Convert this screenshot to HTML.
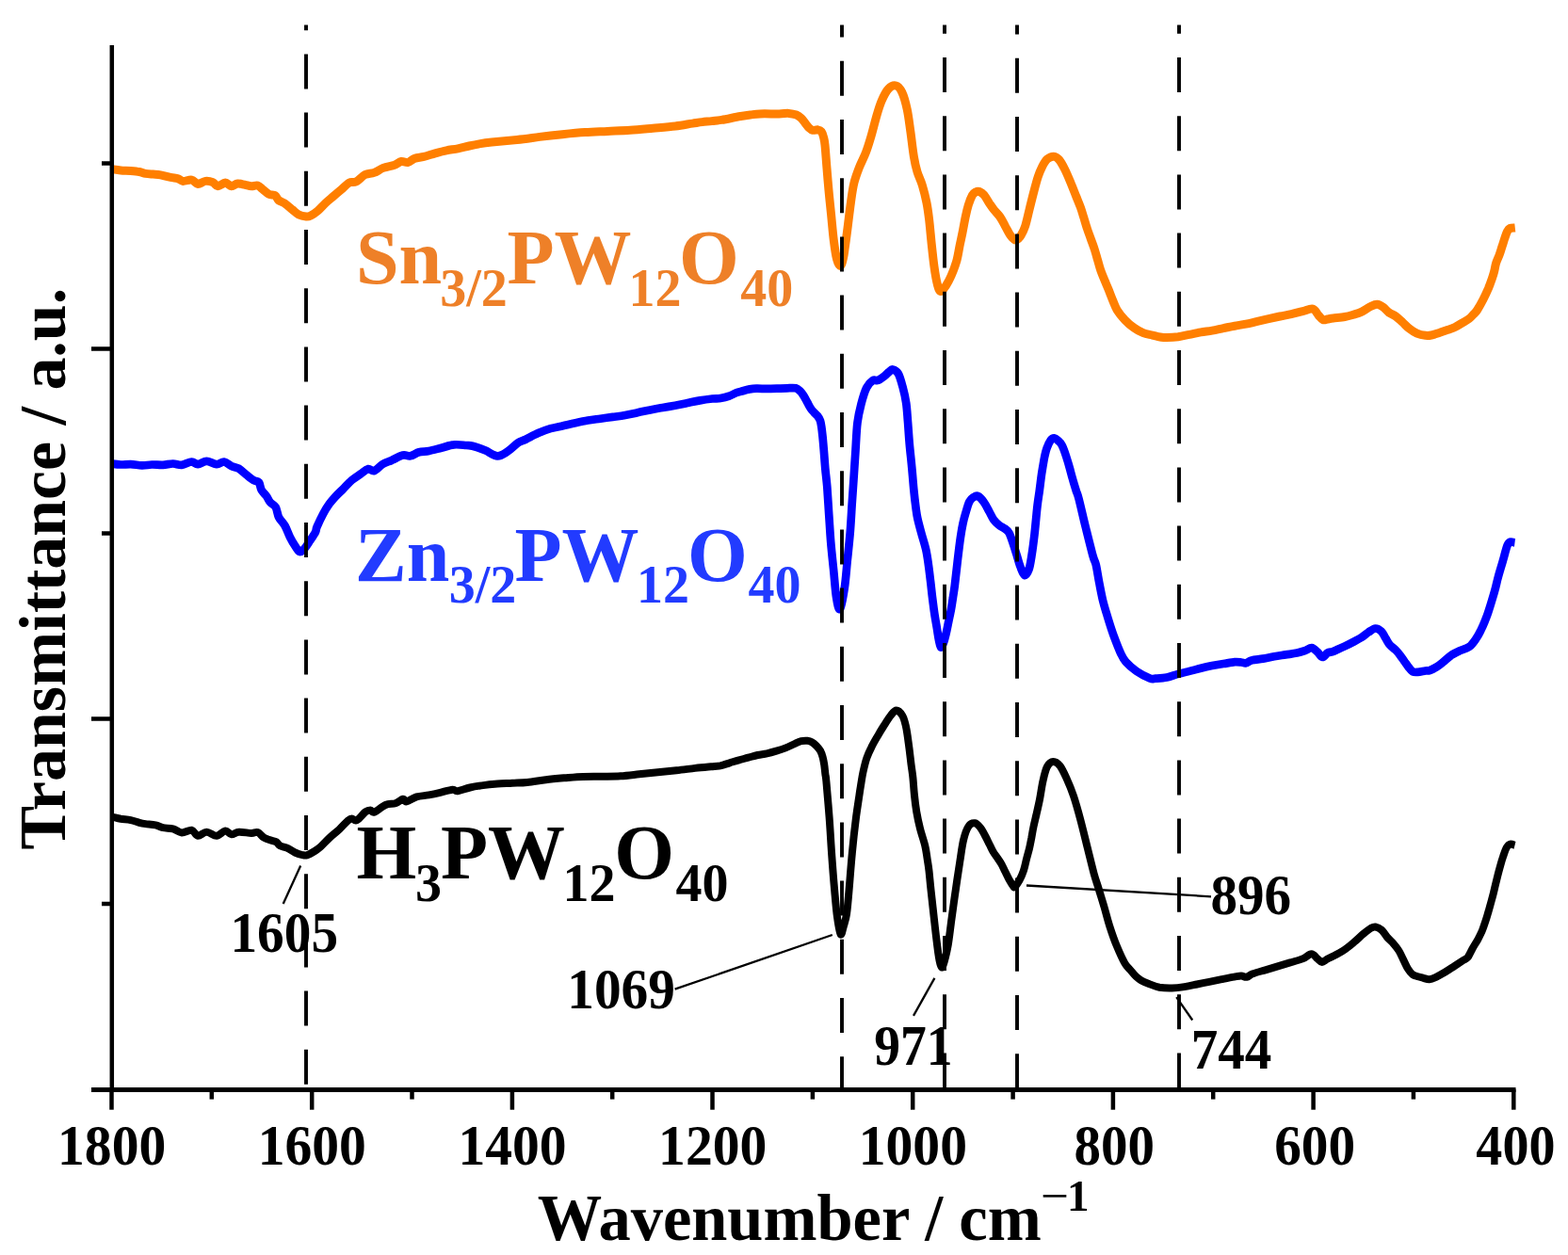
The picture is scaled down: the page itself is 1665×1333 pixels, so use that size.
<!DOCTYPE html>
<html><head><meta charset="utf-8"><title>FTIR spectra</title>
<style>html,body{margin:0;padding:0;background:#fff;overflow:hidden}svg{display:block}</style>
</head><body>
<svg width="1665" height="1333" viewBox="0 0 1665 1333">
<rect width="1665" height="1333" fill="#fff"/>
<g fill="none" stroke-linejoin="round" stroke-linecap="butt">
<path d="M118.3 179.6C119.9 179.8 124.8 180.6 128.2 180.9C131.6 181.2 135.5 181.1 138.8 181.4C142.1 181.7 145.4 182.0 148.0 182.5C150.6 183.0 152.2 184.0 154.6 184.4C157.0 184.8 159.9 184.9 162.6 185.1C165.2 185.3 167.4 185.2 170.5 185.8C173.6 186.4 178.0 187.8 181.1 188.4C184.2 189.1 186.8 189.0 189.0 189.7C191.2 190.4 191.9 192.2 194.3 192.4C196.7 192.6 200.9 190.6 203.5 191.1C206.1 191.6 207.7 195.2 210.1 195.4C212.5 195.6 215.4 192.7 218.1 192.4C220.8 192.1 223.8 192.8 226.0 193.7C228.2 194.6 229.1 197.6 231.3 197.7C233.5 197.8 236.8 194.1 239.2 194.1C241.6 194.1 243.6 197.5 245.8 197.7C248.0 197.8 250.0 195.2 252.4 195.0C254.8 194.8 257.9 195.9 260.3 196.3C262.7 196.8 264.8 197.6 267.0 197.7C269.2 197.8 271.6 196.4 273.6 197.0C275.6 197.6 276.8 199.5 278.8 201.0C280.8 202.5 283.3 205.1 285.5 206.2C287.7 207.3 290.4 206.5 292.1 207.6C293.9 208.7 294.2 211.5 296.0 212.9C297.8 214.3 300.2 214.5 302.6 216.2C305.0 217.8 308.2 220.8 310.6 222.8C313.0 224.8 314.8 226.8 317.2 228.0C319.6 229.2 323.0 229.8 325.1 230.0C327.2 230.2 328.0 230.0 330.0 229.0C332.0 228.0 334.6 226.3 337.2 224.1C339.8 221.9 342.8 218.3 345.6 215.7C348.4 213.1 351.2 210.9 354.0 208.5C356.8 206.1 359.6 203.7 362.4 201.3C365.2 198.9 368.2 195.5 370.8 194.1C373.4 192.7 375.2 194.4 378.0 193.0C380.8 191.6 384.5 187.2 387.7 185.6C390.9 184.0 394.1 184.6 397.3 183.4C400.5 182.2 403.3 179.8 406.9 178.4C410.5 177.0 415.7 176.3 418.9 175.2C422.1 174.0 423.7 171.9 426.1 171.5C428.5 171.1 430.9 173.1 433.3 172.5C435.7 171.9 437.7 169.2 440.5 168.2C443.3 167.2 446.5 167.3 450.1 166.4C453.7 165.5 458.1 163.9 462.1 162.8C466.1 161.7 470.1 160.6 474.1 159.8C478.1 159.0 482.2 158.6 486.2 157.8C490.2 157.0 494.2 155.9 498.2 155.0C502.2 154.1 506.2 153.3 510.2 152.6C514.2 151.9 515.7 151.7 522.2 151.0C528.7 150.3 540.5 149.3 549.0 148.4C557.5 147.5 565.0 146.4 573.0 145.4C581.0 144.4 589.1 143.5 597.1 142.7C605.1 141.9 613.1 141.1 621.1 140.6C629.1 140.1 637.1 139.8 645.1 139.4C653.1 139.0 661.1 138.7 669.1 138.2C677.1 137.7 685.2 136.9 693.2 136.2C701.2 135.5 710.2 134.8 717.2 134.0C724.2 133.2 730.7 131.8 735.4 131.1C740.1 130.4 742.2 130.0 745.6 129.6C749.0 129.2 752.4 129.0 755.8 128.6C759.2 128.2 762.7 127.9 766.1 127.4C769.5 126.9 772.9 126.2 776.3 125.5C779.7 124.8 783.1 124.1 786.5 123.5C789.9 122.9 793.3 122.4 796.7 122.0C800.1 121.6 801.8 121.1 806.9 120.9C812.0 120.7 822.2 121.0 827.3 120.9C832.4 120.8 834.4 120.2 837.5 120.4C840.6 120.6 843.5 121.2 845.7 122.0C847.9 122.8 849.3 124.1 850.8 125.5C852.3 126.9 853.5 128.9 854.9 130.6C856.3 132.3 857.6 134.4 859.0 135.7C860.4 137.0 861.5 138.0 863.0 138.3C864.5 138.7 866.7 137.6 868.2 137.8C869.7 138.1 871.1 138.4 872.2 139.8C873.3 141.2 874.0 143.6 874.6 146.0C875.2 148.4 875.5 149.3 876.0 154.0C876.5 158.7 877.0 166.2 877.6 174.0C878.2 181.8 879.1 192.1 879.9 201.1C880.7 210.1 881.7 219.1 882.6 228.1C883.5 237.1 884.3 247.2 885.3 255.1C886.3 263.0 887.4 270.8 888.6 275.4C889.8 280.0 891.4 282.7 892.5 282.5C893.6 282.3 894.7 277.4 895.5 274.0C896.3 270.6 896.6 267.3 897.4 261.9C898.2 256.5 899.1 249.5 900.1 241.6C901.1 233.7 902.4 222.5 903.5 214.6C904.6 206.7 905.4 200.4 906.9 194.3C908.4 188.2 910.2 183.6 912.3 178.1C914.4 172.6 917.5 167.2 919.6 161.5C921.8 155.8 923.3 150.4 925.2 144.0C927.1 137.6 929.0 129.4 930.8 123.2C932.6 117.0 934.1 111.8 936.2 107.0C938.3 102.2 940.9 97.1 943.4 94.4C945.9 91.7 949.1 90.4 951.5 91.0C953.9 91.6 955.8 93.8 957.8 98.0C959.8 102.2 961.7 109.1 963.2 116.0C964.7 122.9 965.6 131.0 966.8 139.4C968.0 147.8 969.2 159.2 970.4 166.4C971.6 173.6 972.5 177.5 974.0 182.6C975.5 187.7 977.8 191.6 979.4 197.0C981.0 202.4 982.7 209.0 983.9 215.0C985.1 221.0 985.7 225.5 986.6 233.0C987.5 240.5 988.4 251.6 989.3 260.0C990.2 268.4 991.0 276.2 992.0 283.4C993.0 290.6 994.4 298.6 995.6 303.0C996.8 307.4 997.7 309.5 999.2 309.5C1000.7 309.5 1002.8 305.9 1004.6 303.2C1006.4 300.4 1008.1 297.3 1010.0 293.0C1011.9 288.7 1014.2 282.7 1015.7 277.5C1017.2 272.3 1017.9 266.9 1018.9 261.9C1019.9 256.8 1021.0 252.4 1022.0 247.2C1023.0 241.9 1024.2 235.3 1025.2 230.4C1026.2 225.5 1027.1 221.7 1028.3 217.8C1029.5 214.0 1031.2 209.6 1032.5 207.3C1033.8 205.0 1034.8 204.6 1036.0 204.0C1037.2 203.4 1038.4 202.9 1039.9 203.5C1041.4 204.1 1043.3 205.3 1045.1 207.3C1046.8 209.3 1048.7 213.1 1050.4 215.7C1052.2 218.3 1053.7 220.6 1055.6 223.0C1057.5 225.4 1060.0 227.6 1061.9 230.4C1063.8 233.2 1065.5 236.7 1067.2 239.8C1069.0 243.0 1070.8 246.9 1072.4 249.3C1074.0 251.7 1075.4 253.1 1076.6 254.0C1077.8 254.9 1078.2 255.5 1079.5 254.8C1080.8 254.1 1082.7 252.4 1084.2 249.9C1085.7 247.4 1087.2 244.7 1088.7 240.0C1090.2 235.3 1091.7 228.0 1093.2 222.0C1094.7 216.0 1096.2 209.7 1097.7 204.0C1099.2 198.3 1100.7 192.3 1102.2 187.8C1103.7 183.3 1105.1 180.2 1106.7 177.0C1108.3 173.8 1110.0 170.7 1112.1 168.9C1114.2 167.1 1117.2 166.0 1119.3 166.2C1121.4 166.3 1122.8 167.6 1124.7 169.8C1126.6 172.0 1128.5 175.6 1130.5 179.5C1132.5 183.4 1134.5 188.2 1136.5 193.0C1138.5 197.8 1140.7 203.5 1142.5 208.0C1144.3 212.5 1145.9 216.2 1147.3 220.0C1148.7 223.8 1149.6 227.2 1150.8 231.0C1152.0 234.8 1153.0 238.7 1154.3 242.5C1155.5 246.3 1157.0 249.9 1158.3 253.7C1159.6 257.4 1161.1 261.2 1162.3 265.0C1163.5 268.8 1164.5 272.5 1165.6 276.3C1166.7 280.1 1167.6 283.9 1168.9 287.6C1170.2 291.4 1172.1 295.5 1173.4 298.8C1174.8 302.1 1175.6 303.9 1177.0 307.3C1178.4 310.8 1180.3 315.8 1181.8 319.5C1183.3 323.2 1184.1 325.9 1186.2 329.3C1188.3 332.7 1191.5 336.6 1194.5 339.8C1197.5 343.0 1201.0 346.0 1204.3 348.3C1207.5 350.6 1210.8 352.4 1214.0 353.7C1217.2 355.0 1220.5 355.3 1223.8 356.1C1227.0 356.9 1231.0 357.9 1233.5 358.3C1236.0 358.7 1236.1 358.7 1239.0 358.6C1241.9 358.5 1247.0 358.2 1251.0 357.7C1255.0 357.1 1259.0 356.1 1263.0 355.3C1267.0 354.5 1271.1 353.6 1275.1 352.9C1279.1 352.2 1283.1 351.8 1287.1 351.1C1291.1 350.4 1295.1 349.4 1299.1 348.6C1303.1 347.8 1307.1 346.9 1311.1 346.2C1315.1 345.5 1319.1 345.0 1323.1 344.2C1327.1 343.4 1331.1 342.3 1335.1 341.4C1339.1 340.5 1343.1 339.6 1347.1 338.7C1351.1 337.8 1355.1 336.9 1359.1 336.0C1363.1 335.1 1367.2 334.5 1371.2 333.6C1375.2 332.7 1379.4 331.5 1383.2 330.6C1387.0 329.7 1391.2 327.5 1394.0 328.2C1396.8 328.9 1398.2 332.9 1400.0 334.8C1401.8 336.7 1403.2 338.9 1404.8 339.6C1406.4 340.3 1407.8 339.3 1409.6 339.0C1411.4 338.7 1412.6 338.4 1415.7 338.0C1418.8 337.6 1424.5 337.1 1428.0 336.5C1431.5 335.9 1434.0 335.1 1437.0 334.2C1440.0 333.3 1443.0 332.5 1446.0 331.1C1449.0 329.7 1452.3 327.0 1455.0 325.7C1457.7 324.4 1460.0 323.1 1462.3 323.2C1464.6 323.3 1466.5 324.6 1468.6 326.1C1470.7 327.6 1472.7 330.4 1474.9 332.0C1477.2 333.6 1479.7 334.3 1482.1 336.0C1484.5 337.7 1486.9 340.1 1489.3 342.3C1491.7 344.5 1494.0 347.1 1496.5 349.1C1499.0 351.1 1501.8 352.9 1504.6 354.1C1507.4 355.3 1511.0 356.0 1513.6 356.3C1516.1 356.6 1517.4 356.5 1519.9 356.0C1522.5 355.5 1526.0 354.1 1528.9 353.2C1531.8 352.2 1534.8 351.2 1537.5 350.3C1540.2 349.4 1542.5 348.7 1545.0 347.5C1547.5 346.3 1550.0 344.6 1552.5 343.1C1555.0 341.6 1558.0 340.0 1560.0 338.5C1562.0 337.0 1563.1 335.5 1564.5 334.0C1565.9 332.5 1566.8 332.2 1568.5 329.5C1570.2 326.8 1573.0 321.9 1575.0 318.0C1577.0 314.1 1579.0 309.7 1580.6 306.0C1582.1 302.3 1583.3 298.9 1584.3 296.0C1585.3 293.1 1585.9 291.2 1586.6 288.5C1587.3 285.8 1587.7 282.5 1588.6 279.5C1589.5 276.5 1591.1 273.5 1592.2 270.5C1593.3 267.5 1594.1 264.5 1595.1 261.5C1596.1 258.5 1597.1 255.1 1598.0 252.5C1598.9 249.9 1599.6 247.5 1600.5 245.8C1601.4 244.1 1602.1 243.1 1603.5 242.5C1604.9 241.9 1607.9 242.1 1608.8 242.0" stroke="#FF7F00" stroke-width="9"/>
<path d="M118.3 492.5C119.9 492.7 124.8 493.4 128.2 493.5C131.6 493.6 135.1 493.0 138.8 493.1C142.6 493.2 147.0 494.3 150.7 494.4C154.4 494.5 157.5 493.6 161.2 493.5C164.9 493.4 169.3 494.0 173.1 493.8C176.8 493.6 180.4 492.5 183.7 492.5C187.0 492.5 189.7 494.1 193.0 493.8C196.3 493.5 200.7 490.6 203.5 490.5C206.3 490.4 207.4 493.2 210.1 493.1C212.8 493.0 216.1 489.8 219.4 489.8C222.7 489.8 226.9 493.0 230.0 493.1C233.1 493.2 235.3 490.2 237.9 490.5C240.5 490.8 243.2 493.9 245.8 495.1C248.4 496.3 251.0 496.1 253.7 497.7C256.3 499.2 259.0 502.3 261.7 504.4C264.4 506.5 267.4 509.0 269.6 510.3C271.8 511.6 273.6 510.6 274.9 512.3C276.2 513.9 276.2 517.8 277.5 520.2C278.8 522.6 281.2 524.6 282.8 526.8C284.4 529.0 285.2 531.4 286.8 533.4C288.4 535.4 291.2 536.1 292.7 538.7C294.2 541.4 294.4 546.0 296.0 549.3C297.6 552.6 300.6 555.0 302.6 558.5C304.6 562.0 306.1 566.9 307.9 570.4C309.7 573.9 311.5 577.1 313.2 579.7C314.9 582.3 316.4 585.4 318.0 586.0C319.6 586.6 320.6 585.5 322.5 583.6C324.4 581.7 327.0 577.5 329.1 574.4C331.2 571.3 333.8 567.6 335.0 565.1C336.2 562.6 335.2 562.7 336.6 559.5C338.0 556.3 341.0 549.8 343.2 545.7C345.4 541.6 347.6 538.2 349.8 535.1C352.0 532.0 354.0 529.8 356.4 527.2C358.8 524.6 361.5 522.2 364.4 519.3C367.3 516.4 370.5 512.6 373.6 510.0C376.7 507.4 380.0 505.4 382.9 503.4C385.8 501.4 388.4 498.7 390.8 498.1C393.2 497.6 394.8 501.0 397.4 500.1C400.0 499.2 403.5 494.8 406.6 492.9C409.7 491.0 412.4 490.4 415.9 488.9C419.4 487.3 424.5 484.4 427.8 483.6C431.1 482.8 432.8 484.9 435.7 484.3C438.6 483.8 441.7 481.2 445.0 480.3C448.3 479.4 451.6 479.8 455.5 479.0C459.4 478.2 464.3 476.8 468.7 475.7C473.1 474.6 477.6 472.8 482.0 472.4C486.4 471.9 491.9 472.8 495.2 473.0C498.5 473.2 498.5 472.8 501.8 473.7C505.1 474.6 510.6 476.5 515.0 478.3C519.4 480.1 524.2 484.1 528.2 484.3C532.2 484.5 535.2 481.9 538.8 479.6C542.4 477.3 546.8 472.5 550.0 470.4C553.2 468.2 554.6 468.4 558.2 466.7C561.8 465.0 567.0 462.0 571.4 460.1C575.8 458.2 580.2 456.5 584.6 455.2C589.0 453.9 593.5 453.2 597.9 452.2C602.3 451.2 606.7 450.1 611.1 449.2C615.5 448.2 619.9 447.2 624.3 446.5C628.7 445.8 633.1 445.3 637.5 444.7C641.9 444.1 646.3 443.5 650.7 442.9C655.1 442.3 659.5 441.8 663.9 441.0C668.3 440.2 672.7 439.2 677.1 438.3C681.5 437.4 685.9 436.3 690.3 435.4C694.7 434.5 699.2 433.8 703.6 433.0C708.0 432.2 712.4 431.5 716.8 430.7C721.2 429.9 725.6 428.9 730.0 428.0C734.4 427.1 738.8 426.1 743.2 425.4C747.6 424.6 752.8 423.9 756.4 423.5C760.0 423.1 762.0 423.5 765.0 423.0C768.0 422.5 771.6 421.6 774.4 420.6C777.2 419.7 779.2 418.2 781.6 417.3C784.0 416.4 786.4 415.9 788.8 415.2C791.2 414.5 793.6 413.8 796.0 413.4C798.4 413.0 800.2 412.8 803.2 412.7C806.2 412.6 810.5 412.9 814.1 412.9C817.7 412.9 821.3 412.8 824.9 412.7C828.5 412.6 832.4 412.4 835.7 412.3C839.1 412.2 842.6 411.7 845.0 412.3C847.4 412.9 848.6 414.5 850.1 415.9C851.6 417.3 852.5 419.0 853.7 420.9C854.9 422.8 856.1 425.2 857.3 427.4C858.5 429.6 859.7 432.1 860.9 433.9C862.1 435.7 863.3 436.9 864.5 438.2C865.7 439.5 867.0 440.4 868.1 441.8C869.2 443.2 870.3 444.8 871.0 446.9C871.7 448.9 872.0 451.3 872.4 454.1C872.8 456.9 873.1 459.7 873.5 463.5C873.9 467.3 874.2 471.3 874.7 477.0C875.2 482.7 875.7 490.9 876.3 497.6C876.9 504.3 877.6 509.0 878.3 517.1C878.9 525.2 879.6 536.5 880.2 546.3C880.9 556.0 881.4 565.8 882.2 575.6C883.0 585.4 884.1 595.1 885.1 604.9C886.1 614.6 886.9 627.1 888.0 634.1C889.1 641.1 890.5 648.6 892.0 647.0C893.5 645.4 895.5 633.0 896.8 624.4C898.1 615.8 898.8 604.9 899.8 595.1C900.8 585.4 901.9 575.6 902.7 565.9C903.5 556.1 904.0 546.4 904.6 536.6C905.2 526.8 906.0 517.1 906.6 507.3C907.2 497.5 907.9 487.8 908.5 478.0C909.1 468.2 909.5 456.9 910.5 448.8C911.5 440.7 912.8 435.5 914.4 429.3C916.0 423.1 918.1 415.9 920.2 411.7C922.3 407.5 925.1 405.2 927.1 403.9C929.1 402.6 930.2 404.8 932.2 404.0C934.2 403.2 937.4 400.7 939.4 399.2C941.4 397.7 942.6 396.1 944.0 395.0C945.4 393.9 946.2 392.2 947.8 392.5C949.4 392.8 952.0 393.7 953.8 396.8C955.6 399.9 957.2 406.0 958.6 411.2C960.0 416.4 961.3 421.9 962.2 428.0C963.1 434.1 963.4 440.7 964.0 448.0C964.6 455.3 965.1 464.0 965.8 472.0C966.5 480.0 967.5 488.0 968.2 496.0C969.0 504.0 969.6 512.7 970.3 520.0C971.0 527.3 971.9 534.8 972.6 540.0C973.3 545.2 973.4 546.5 974.4 551.0C975.4 555.5 977.0 561.4 978.5 566.9C980.0 572.4 982.0 578.1 983.2 583.7C984.5 589.3 985.2 595.0 986.0 600.6C986.8 606.2 987.4 611.9 988.1 617.5C988.8 623.1 989.3 628.8 990.0 634.4C990.7 640.0 991.4 645.6 992.2 651.2C993.0 656.8 994.2 663.3 995.0 668.1C995.8 672.9 996.3 676.8 997.0 680.0C997.7 683.2 998.2 687.0 999.0 687.5C999.8 688.0 1000.9 685.4 1001.8 683.0C1002.7 680.6 1003.7 676.8 1004.6 673.0C1005.5 669.2 1006.4 664.2 1007.3 660.0C1008.2 655.8 1009.1 651.7 1009.9 647.5C1010.7 643.3 1011.2 639.2 1011.9 635.0C1012.5 630.8 1013.0 628.4 1013.8 622.0C1014.6 615.6 1015.7 605.0 1016.7 596.5C1017.7 588.0 1018.9 577.8 1019.9 571.0C1020.9 564.2 1021.6 560.2 1022.5 556.0C1023.4 551.8 1024.0 549.4 1025.2 545.5C1026.4 541.6 1027.9 535.7 1029.4 532.8C1030.9 529.9 1032.5 529.0 1034.0 528.0C1035.5 527.0 1036.8 526.2 1038.5 527.0C1040.2 527.8 1042.5 530.2 1044.5 533.0C1046.5 535.8 1048.8 540.4 1050.5 543.5C1052.2 546.6 1053.2 549.4 1055.0 551.8C1056.8 554.2 1059.0 556.2 1061.0 557.8C1063.0 559.4 1065.2 560.1 1067.0 561.5C1068.8 562.9 1070.0 563.2 1071.5 566.0C1073.0 568.8 1074.6 574.0 1076.0 578.0C1077.4 582.0 1078.5 586.0 1079.8 590.0C1081.0 594.0 1082.1 598.5 1083.5 602.0C1084.9 605.5 1086.5 610.5 1088.0 611.0C1089.5 611.5 1091.2 608.5 1092.5 605.0C1093.8 601.5 1094.5 596.2 1095.5 590.0C1096.5 583.8 1097.5 576.2 1098.5 567.5C1099.5 558.8 1100.6 545.2 1101.5 537.5C1102.4 529.8 1103.2 525.8 1103.8 521.1C1104.4 516.4 1104.8 513.1 1105.3 509.1C1105.8 505.1 1106.4 501.0 1107.1 497.0C1107.8 493.0 1108.5 488.5 1109.2 485.0C1110.0 481.5 1110.5 478.9 1111.6 476.0C1112.7 473.1 1114.4 469.3 1115.7 467.5C1117.0 465.7 1118.2 465.2 1119.5 465.3C1120.8 465.4 1122.1 466.7 1123.5 468.0C1124.9 469.3 1126.2 470.2 1127.7 473.0C1129.2 475.8 1130.9 481.0 1132.2 485.0C1133.5 489.0 1134.7 493.0 1135.8 497.0C1136.9 501.0 1137.9 505.1 1139.1 509.1C1140.2 513.1 1141.6 517.6 1142.7 521.1C1143.8 524.6 1143.9 523.5 1145.6 530.0C1147.3 536.5 1150.3 550.0 1152.8 560.0C1155.3 570.0 1158.6 583.3 1160.4 590.0C1162.2 596.7 1162.7 595.2 1163.8 600.0C1164.9 604.8 1166.0 612.5 1167.2 618.8C1168.4 625.0 1169.5 631.2 1171.0 637.5C1172.5 643.8 1174.5 650.0 1176.4 656.3C1178.3 662.5 1180.2 668.8 1182.5 675.0C1184.8 681.2 1187.8 689.1 1190.0 693.8C1192.2 698.5 1192.8 700.0 1195.6 703.2C1198.4 706.4 1202.7 710.1 1206.9 713.0C1211.1 715.9 1217.7 719.2 1221.0 720.5C1224.3 721.8 1224.0 720.9 1227.0 720.7C1230.0 720.5 1235.0 720.3 1239.0 719.5C1243.0 718.7 1247.0 717.0 1251.0 715.9C1255.0 714.8 1259.0 713.9 1263.0 712.9C1267.0 711.9 1271.1 710.8 1275.1 709.8C1279.1 708.8 1283.1 707.9 1287.1 707.1C1291.1 706.3 1295.1 705.6 1299.1 705.0C1303.1 704.4 1307.9 703.5 1311.1 703.2C1314.2 703.0 1316.0 703.3 1318.0 703.5C1320.0 703.7 1321.2 704.6 1323.1 704.2C1324.9 703.9 1326.1 702.2 1329.1 701.4C1332.1 700.6 1337.1 700.3 1341.1 699.6C1345.1 698.9 1349.1 697.9 1353.1 697.2C1357.1 696.5 1361.2 696.0 1365.2 695.4C1369.2 694.8 1373.8 694.3 1377.2 693.6C1380.6 692.9 1383.0 692.1 1385.6 691.2C1388.2 690.3 1390.6 688.0 1392.8 688.2C1395.0 688.4 1396.9 690.8 1398.8 692.4C1400.7 694.0 1402.4 697.8 1404.2 698.0C1406.0 698.2 1407.9 694.6 1409.6 693.6C1411.3 692.6 1412.9 692.8 1414.5 692.3C1416.1 691.8 1416.8 691.5 1419.0 690.5C1421.2 689.5 1425.0 687.8 1428.0 686.4C1431.0 685.0 1434.0 683.5 1437.0 681.9C1440.0 680.3 1443.3 678.6 1446.0 676.9C1448.7 675.2 1450.8 673.1 1453.2 671.5C1455.6 669.9 1458.2 667.6 1460.5 667.5C1462.8 667.4 1465.0 668.9 1466.8 670.6C1468.6 672.3 1469.8 675.4 1471.3 677.8C1472.8 680.2 1474.0 682.9 1475.8 685.0C1477.6 687.1 1480.3 688.7 1482.1 690.5C1483.9 692.3 1485.1 693.9 1486.6 695.9C1488.1 697.9 1489.6 700.1 1491.1 702.2C1492.6 704.3 1494.1 706.6 1495.6 708.5C1497.1 710.4 1498.4 712.5 1500.1 713.4C1501.8 714.3 1503.2 714.0 1505.5 713.9C1507.8 713.8 1511.5 712.8 1513.6 712.5C1515.7 712.2 1516.1 712.8 1518.1 712.1C1520.0 711.4 1522.9 710.0 1525.3 708.5C1527.7 707.0 1530.0 705.1 1532.5 703.1C1535.0 701.1 1537.8 698.2 1540.6 696.3C1543.4 694.3 1546.4 692.9 1549.6 691.4C1552.8 689.9 1557.0 689.3 1560.0 687.1C1563.0 684.9 1565.5 681.1 1567.6 678.1C1569.7 675.1 1571.1 672.1 1572.6 669.1C1574.1 666.1 1575.4 663.1 1576.6 660.1C1577.8 657.1 1579.0 654.1 1580.0 651.1C1581.0 648.1 1582.0 645.1 1582.9 642.1C1583.8 639.1 1584.7 636.1 1585.6 633.1C1586.5 630.1 1587.3 627.1 1588.1 624.1C1588.9 621.1 1589.5 618.0 1590.3 615.0C1591.1 612.0 1591.9 609.0 1592.8 606.0C1593.7 603.0 1594.6 600.0 1595.5 597.0C1596.4 594.0 1597.2 590.9 1598.0 588.0C1598.8 585.1 1599.6 581.6 1600.5 579.5C1601.4 577.4 1602.3 576.1 1603.6 575.6C1604.9 575.1 1607.7 576.4 1608.5 576.5" stroke="#0000FF" stroke-width="8.7"/>
<path d="M120.0 867.8C121.4 868.1 125.1 869.2 128.2 869.8C131.3 870.3 135.5 870.4 138.8 871.1C142.1 871.8 145.4 873.1 148.0 873.8C150.6 874.5 151.7 874.7 154.6 875.1C157.5 875.5 162.1 875.7 165.2 876.4C168.3 877.1 170.0 878.4 173.1 879.1C176.2 879.8 180.4 879.5 183.7 880.4C187.0 881.3 189.7 884.2 193.0 884.4C196.3 884.6 200.7 881.2 203.5 881.7C206.3 882.2 207.4 887.4 210.1 887.7C212.8 888.0 216.1 883.7 219.4 883.7C222.7 883.7 226.7 887.9 230.0 887.7C233.3 887.5 236.6 882.6 239.2 882.4C241.8 882.2 243.4 886.1 245.8 886.3C248.2 886.5 250.2 883.9 253.7 883.7C257.2 883.5 263.7 884.9 267.0 885.0C270.3 885.1 271.4 883.3 273.6 884.1C275.8 884.9 278.0 888.2 280.2 889.6C282.4 891.0 284.6 891.5 286.8 892.3C289.0 893.1 291.6 893.3 293.4 894.3C295.1 895.3 295.3 897.1 297.3 898.2C299.3 899.3 302.7 899.7 305.3 900.9C307.9 902.1 310.6 904.3 313.2 905.5C315.8 906.7 318.9 907.7 321.1 908.1C323.3 908.5 324.1 908.9 326.4 908.1C328.7 907.3 332.6 905.0 335.0 903.5C337.4 902.0 338.1 901.5 340.6 899.3C343.1 897.0 346.5 893.1 349.8 890.0C353.1 886.9 357.1 883.9 360.4 880.8C363.7 877.7 367.4 873.4 369.6 871.5C371.8 869.6 372.1 869.5 373.6 869.5C375.2 869.5 376.5 872.4 378.9 871.2C381.3 870.0 385.7 864.1 388.1 862.3C390.5 860.5 391.8 860.5 393.4 860.5C394.9 860.5 394.8 863.5 397.4 862.6C400.0 861.7 405.6 856.6 409.3 855.0C413.1 853.4 416.8 854.2 419.9 853.2C423.0 852.2 425.8 849.1 427.8 848.8C429.8 848.5 429.3 851.8 431.7 851.4C434.1 851.0 438.3 847.6 442.3 846.4C446.3 845.2 451.3 845.2 455.5 844.4C459.7 843.6 463.2 842.8 467.4 841.8C471.6 840.8 477.5 839.0 480.6 838.7C483.7 838.5 482.8 840.7 485.9 840.3C489.0 839.9 494.2 837.6 499.1 836.5C504.0 835.4 510.1 834.5 515.0 833.9C519.9 833.2 523.4 833.0 528.2 832.6C533.1 832.2 538.8 832.1 544.1 831.8C549.4 831.5 553.9 831.5 559.8 830.9C565.7 830.3 573.0 829.0 579.6 828.2C586.2 827.4 592.9 826.8 599.5 826.2C606.1 825.7 612.7 825.1 619.3 824.9C625.9 824.6 632.5 824.8 639.1 824.7C645.7 824.6 652.3 824.7 658.9 824.3C665.5 823.9 672.1 823.0 678.7 822.3C685.3 821.6 692.0 821.0 698.6 820.3C705.2 819.6 711.8 819.0 718.4 818.3C725.0 817.6 732.1 816.6 738.2 815.9C744.3 815.2 750.5 814.7 755.0 814.3C759.5 813.9 761.6 814.0 764.9 813.3C768.2 812.6 771.5 811.3 774.8 810.3C778.1 809.3 781.4 808.2 784.7 807.3C788.0 806.4 791.3 805.6 794.6 804.7C797.9 803.8 801.2 802.7 804.5 802.0C807.8 801.3 811.1 801.1 814.4 800.4C817.7 799.7 821.1 798.7 824.4 797.7C827.7 796.7 831.0 795.7 834.3 794.4C837.6 793.1 841.5 791.0 844.2 789.8C847.0 788.6 848.6 787.7 850.8 787.2C853.0 786.7 855.5 786.6 857.4 786.8C859.3 787.0 860.4 787.3 862.0 788.2C863.6 789.1 865.3 790.6 866.8 792.1C868.3 793.6 869.9 795.3 871.0 797.3C872.1 799.3 872.9 801.6 873.6 804.1C874.3 806.6 874.7 808.9 875.2 812.0C875.7 815.1 876.0 819.5 876.4 822.5C876.8 825.5 876.7 822.4 877.4 830.0C878.1 837.6 879.6 855.5 880.6 868.3C881.6 881.1 882.2 893.8 883.1 906.6C884.0 919.4 885.1 933.7 886.1 944.9C887.1 956.1 887.9 966.1 889.0 974.0C890.1 981.9 891.4 991.2 892.6 992.5C893.8 993.8 895.2 985.7 896.3 982.0C897.4 978.3 898.2 976.6 899.1 970.4C900.0 964.2 900.7 955.5 901.6 944.9C902.5 934.3 903.6 919.4 904.8 906.6C906.0 893.8 907.7 878.6 909.0 868.3C910.3 858.0 911.6 850.5 912.4 845.0C913.2 839.5 913.2 839.3 913.9 835.1C914.6 830.9 915.4 825.0 916.5 820.0C917.6 815.0 918.9 809.4 920.4 805.0C921.9 800.6 923.4 797.5 925.3 793.8C927.1 790.0 929.3 786.2 931.5 782.5C933.7 778.8 935.9 775.0 938.3 771.3C940.7 767.5 943.5 762.8 945.8 760.0C948.0 757.2 949.7 754.5 951.8 754.5C953.9 754.5 956.5 757.2 958.2 760.0C959.9 762.8 961.0 767.5 961.9 771.3C962.8 775.0 963.1 778.1 963.8 782.5C964.4 786.9 965.2 792.5 965.8 797.5C966.4 802.5 967.0 807.8 967.6 812.5C968.2 817.2 968.9 820.8 969.4 826.0C969.9 831.2 970.3 838.0 970.9 844.0C971.5 850.0 972.2 856.0 973.2 862.0C974.2 868.0 975.5 874.0 977.0 880.0C978.5 886.0 980.9 892.7 982.2 898.0C983.5 903.3 983.9 907.5 984.6 912.0C985.3 916.5 985.9 919.5 986.5 925.0C987.1 930.5 987.6 936.8 988.5 945.1C989.4 953.5 990.7 965.1 991.8 975.1C992.9 985.1 994.3 997.6 995.3 1005.1C996.2 1012.6 996.8 1016.3 997.5 1020.0C998.2 1023.7 999.0 1027.2 999.8 1027.5C1000.6 1027.8 1001.4 1025.7 1002.5 1022.0C1003.6 1018.3 1005.1 1012.9 1006.5 1005.1C1007.9 997.3 1009.2 985.1 1010.6 975.1C1012.0 965.1 1013.3 955.1 1014.8 945.1C1016.2 935.1 1017.9 923.8 1019.3 915.0C1020.7 906.2 1021.5 898.8 1023.0 892.5C1024.5 886.2 1026.5 880.5 1028.6 877.5C1030.6 874.5 1033.2 874.0 1035.3 874.3C1037.4 874.6 1039.4 877.1 1041.3 879.5C1043.2 881.9 1044.9 885.5 1046.5 888.5C1048.1 891.5 1049.6 894.8 1051.0 897.5C1052.4 900.2 1053.3 902.5 1054.8 905.0C1056.3 907.5 1058.5 910.2 1060.0 912.5C1061.5 914.8 1062.5 916.2 1063.8 918.5C1065.0 920.8 1066.1 923.2 1067.5 926.0C1068.9 928.8 1070.6 932.5 1072.0 935.0C1073.4 937.5 1074.9 939.8 1075.8 941.0C1076.7 942.2 1076.4 943.0 1077.5 942.0C1078.6 941.0 1080.9 937.9 1082.5 935.0C1084.1 932.1 1085.8 928.2 1087.0 924.5C1088.2 920.8 1089.0 916.4 1090.0 912.5C1091.0 908.6 1092.1 905.0 1093.0 901.3C1093.9 897.5 1094.5 893.9 1095.3 890.0C1096.0 886.1 1096.6 882.2 1097.5 878.0C1098.4 873.8 1099.4 869.8 1100.5 865.0C1101.6 860.2 1102.8 855.1 1104.0 849.1C1105.2 843.1 1106.2 834.9 1107.6 829.0C1108.9 823.1 1110.3 817.3 1112.1 814.0C1113.9 810.7 1116.2 809.1 1118.4 809.0C1120.7 808.9 1123.2 810.4 1125.6 813.5C1128.0 816.6 1130.4 822.1 1132.8 827.4C1135.2 832.7 1137.6 838.3 1140.0 845.5C1142.4 852.7 1144.9 861.7 1147.3 870.7C1149.7 879.7 1152.1 889.9 1154.5 899.5C1156.9 909.1 1159.7 920.8 1161.7 928.3C1163.8 935.8 1165.0 938.5 1166.8 944.5C1168.6 950.5 1170.8 957.5 1172.7 964.0C1174.6 970.5 1176.1 977.0 1178.2 983.5C1180.3 990.0 1182.4 996.5 1185.1 1003.0C1187.8 1009.5 1191.6 1018.1 1194.1 1022.6C1196.6 1027.1 1198.0 1027.6 1200.0 1030.0C1202.0 1032.4 1204.3 1035.3 1206.3 1037.2C1208.3 1039.1 1209.7 1040.2 1212.0 1041.5C1214.3 1042.8 1216.8 1043.8 1220.0 1045.0C1223.2 1046.2 1227.1 1048.0 1231.2 1048.8C1235.3 1049.5 1240.1 1049.6 1244.5 1049.5C1248.9 1049.4 1253.3 1048.8 1257.7 1048.1C1262.1 1047.4 1266.5 1046.4 1270.9 1045.5C1275.3 1044.6 1279.7 1043.8 1284.1 1042.9C1288.5 1042.0 1292.9 1041.1 1297.3 1040.2C1301.7 1039.3 1307.0 1038.2 1310.5 1037.6C1314.0 1037.0 1315.8 1036.5 1318.0 1036.5C1320.2 1036.5 1321.7 1038.2 1323.7 1037.8C1325.8 1037.4 1327.0 1035.5 1330.3 1034.3C1333.6 1033.0 1339.2 1031.6 1343.6 1030.3C1348.0 1029.0 1352.4 1027.6 1356.8 1026.3C1361.2 1025.0 1365.6 1023.7 1370.0 1022.4C1374.4 1021.1 1379.5 1019.9 1383.2 1018.4C1387.0 1016.9 1389.8 1013.3 1392.5 1013.3C1395.2 1013.3 1397.2 1016.9 1399.1 1018.4C1401.0 1019.9 1402.0 1022.0 1403.8 1022.0C1405.5 1022.0 1407.0 1020.0 1409.6 1018.6C1412.2 1017.2 1416.0 1015.6 1419.2 1013.8C1422.4 1012.0 1425.6 1010.2 1428.8 1008.0C1432.0 1005.8 1435.2 1003.0 1438.4 1000.3C1441.6 997.6 1445.1 994.1 1448.0 991.7C1450.9 989.3 1453.6 987.1 1455.7 985.9C1457.8 984.7 1458.6 984.2 1460.5 984.5C1462.4 984.8 1465.1 986.1 1467.2 987.9C1469.3 989.7 1470.9 993.1 1473.0 995.5C1475.1 997.9 1477.6 999.9 1479.7 1002.3C1481.8 1004.7 1483.7 1007.1 1485.5 1010.0C1487.3 1012.9 1488.7 1016.4 1490.3 1019.6C1491.9 1022.8 1493.5 1026.7 1495.1 1029.2C1496.7 1031.8 1498.1 1033.6 1499.9 1034.9C1501.7 1036.2 1503.8 1036.7 1505.7 1037.3C1507.6 1037.9 1509.4 1038.3 1511.4 1038.8C1513.4 1039.3 1515.5 1040.4 1517.7 1040.2C1520.0 1040.0 1522.1 1039.1 1524.9 1037.8C1527.7 1036.5 1531.3 1034.4 1534.5 1032.5C1537.7 1030.6 1540.9 1028.4 1544.1 1026.3C1547.3 1024.2 1551.3 1021.6 1553.7 1020.0C1556.1 1018.4 1556.9 1018.9 1558.6 1016.8C1560.3 1014.6 1562.0 1010.4 1563.8 1007.1C1565.6 1003.9 1567.9 1000.5 1569.6 997.3C1571.3 994.0 1572.9 990.9 1574.2 987.6C1575.5 984.4 1576.5 981.1 1577.6 977.8C1578.7 974.5 1579.6 971.2 1580.6 968.0C1581.5 964.8 1582.4 961.5 1583.3 958.3C1584.2 955.0 1585.1 951.8 1585.9 948.5C1586.7 945.2 1587.4 942.0 1588.2 938.8C1589.0 935.5 1589.8 932.2 1590.6 929.0C1591.4 925.8 1592.3 922.5 1593.2 919.3C1594.1 916.0 1595.1 912.7 1596.2 909.5C1597.3 906.3 1598.6 902.2 1599.9 900.0C1601.2 897.8 1602.4 896.9 1603.8 896.5C1605.2 896.1 1607.7 897.6 1608.5 897.8" stroke="#000" stroke-width="8"/>
</g>
<g stroke="#000" stroke-width="3.9" stroke-dasharray="37 25.2" fill="none">
<line x1="325.0" y1="1151.8" x2="325.0" y2="26.5"/><line x1="894.0" y1="1159.2" x2="894.0" y2="26.5"/><line x1="1003.0" y1="1155.4" x2="1003.0" y2="26.5"/><line x1="1080.0" y1="1156.2" x2="1080.0" y2="26.5"/><line x1="1252.0" y1="1155.4" x2="1252.0" y2="26.5"/>
</g>
<g stroke="#000" stroke-width="2.3" fill="none">
<line x1="319.2" y1="919.5" x2="300.7" y2="960"/>
<line x1="716.6" y1="1050.7" x2="883.8" y2="993"/>
<line x1="992.4" y1="1038.9" x2="970" y2="1078.9"/>
<line x1="1090" y1="940.5" x2="1286" y2="952.3"/>
<line x1="1249.2" y1="1059.2" x2="1266.2" y2="1083.5"/>
</g>
<g stroke="#000" stroke-width="4.5" fill="none">
<line x1="118.8" y1="48" x2="118.8" y2="1159"/>
<line x1="97" y1="1157.5" x2="1609.5" y2="1157.5" stroke-width="5"/>
<line x1="118.5" y1="1157" x2="118.5" y2="1178.7"/><line x1="224.8" y1="1157" x2="224.8" y2="1167.6"/><line x1="331.2" y1="1157" x2="331.2" y2="1178.7"/><line x1="437.5" y1="1157" x2="437.5" y2="1167.6"/><line x1="543.9" y1="1157" x2="543.9" y2="1178.7"/><line x1="650.2" y1="1157" x2="650.2" y2="1167.6"/><line x1="756.5" y1="1157" x2="756.5" y2="1178.7"/><line x1="862.9" y1="1157" x2="862.9" y2="1167.6"/><line x1="969.2" y1="1157" x2="969.2" y2="1178.7"/><line x1="1075.6" y1="1157" x2="1075.6" y2="1167.6"/><line x1="1181.9" y1="1157" x2="1181.9" y2="1178.7"/><line x1="1288.2" y1="1157" x2="1288.2" y2="1167.6"/><line x1="1394.6" y1="1157" x2="1394.6" y2="1178.7"/><line x1="1500.9" y1="1157" x2="1500.9" y2="1167.6"/><line x1="1607.3" y1="1157" x2="1607.3" y2="1178.7"/><line x1="108.0" y1="173.5" x2="119" y2="173.5"/><line x1="97.0" y1="370.5" x2="119" y2="370.5"/><line x1="108.0" y1="566.5" x2="119" y2="566.5"/><line x1="97.0" y1="763.5" x2="119" y2="763.5"/><line x1="108.0" y1="960.0" x2="119" y2="960.0"/>
</g>
<g font-family="Liberation Serif, Times New Roman, serif" font-weight="bold" fill="#000">
<g font-size="60.5"><text transform="translate(61.04,1236.80) scale(0.9522,1)">1800</text><text transform="translate(273.72,1236.80) scale(0.9522,1)">1600</text><text transform="translate(486.40,1236.80) scale(0.9522,1)">1400</text><text transform="translate(699.08,1236.80) scale(0.9522,1)">1200</text><text transform="translate(911.76,1236.80) scale(0.9522,1)">1000</text><text transform="translate(1140.49,1236.80) scale(0.9412,1)">800</text><text transform="translate(1353.16,1236.80) scale(0.9478,1)">600</text><text transform="translate(1567.35,1236.80) scale(0.9268,1)">400</text><text transform="translate(244.41,1010.70) scale(0.9478,1)">1605</text><text transform="translate(602.21,1071.10) scale(0.9487,1)">1069</text><text transform="translate(928.23,1131.00) scale(0.9196,1)">971</text><text transform="translate(1264.67,1135.30) scale(0.9440,1)">744</text><text transform="translate(1285.39,971.40) scale(0.9435,1)">896</text></g>
<text transform="translate(570.8,1316.5) scale(0.978,1)" font-size="70">Wavenumber / cm</text>
<text transform="translate(1105.2,1288.3) scale(1,1)" font-size="53" font-weight="normal">&#8722;</text>
<text x="1133" y="1286" font-size="47">1</text>
<text transform="translate(69.3,902.4) rotate(-90) scale(0.99,1)" font-size="70.6">Transmittance / a.u.</text>
<text fill="#EE8028"><tspan x="378.0" y="300.8" font-size="82">Sn</tspan><tspan x="467.3" y="324.5" font-size="56">3/2</tspan><tspan x="538.5" y="300.8" font-size="82">PW</tspan><tspan x="667.5" y="324.5" font-size="56">12</tspan><tspan x="720.9" y="300.8" font-size="82">O</tspan><tspan x="786.3" y="324.5" font-size="56">40</tspan></text><text fill="#223BFF"><tspan x="377.1" y="617.0" font-size="82">Zn</tspan><tspan x="476.7" y="639.5" font-size="56">3/2</tspan><tspan x="546.4" y="617.0" font-size="82">PW</tspan><tspan x="676.0" y="639.5" font-size="56">12</tspan><tspan x="729.9" y="617.0" font-size="82">O</tspan><tspan x="794.6" y="639.5" font-size="56">40</tspan></text><text fill="#000"><tspan x="378.5" y="932.5" font-size="82">H</tspan><tspan x="441.0" y="956.5" font-size="56">3</tspan><tspan x="468.0" y="932.5" font-size="82">PW</tspan><tspan x="597.6" y="956.5" font-size="56">12</tspan><tspan x="652.2" y="932.5" font-size="82">O</tspan><tspan x="717.5" y="956.5" font-size="56">40</tspan></text>
</g>
</svg>
</body></html>
